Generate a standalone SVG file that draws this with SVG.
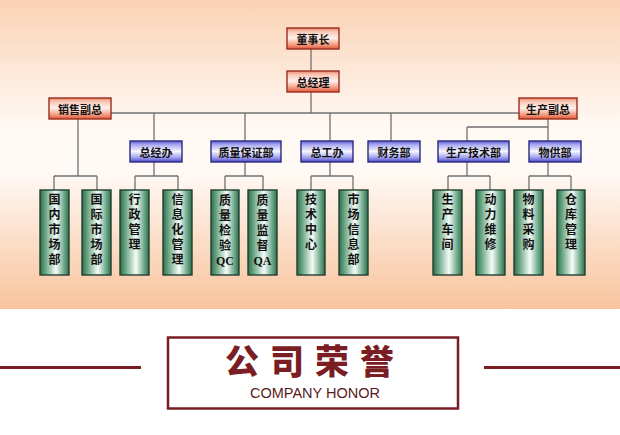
<svg xmlns="http://www.w3.org/2000/svg" width="620" height="435" viewBox="0 0 620 435">
<defs>
<linearGradient id="bg" x1="0" y1="0" x2="0" y2="1">
<stop offset="0" stop-color="#fad2b4"/>
<stop offset="0.4" stop-color="#fff8f2"/>
<stop offset="0.55" stop-color="#fffaf6"/>
<stop offset="1" stop-color="#f8c39c"/>
</linearGradient>
<linearGradient id="red" x1="0" y1="0" x2="0" y2="1">
<stop offset="0" stop-color="#ee8468"/>
<stop offset="0.18" stop-color="#f9c9b8"/>
<stop offset="0.48" stop-color="#fff1eb"/>
<stop offset="0.8" stop-color="#f29a7e"/>
<stop offset="1" stop-color="#e0553a"/>
</linearGradient>
<linearGradient id="blue" x1="0" y1="0" x2="0" y2="1">
<stop offset="0" stop-color="#6060dc"/>
<stop offset="0.2" stop-color="#b0b0f2"/>
<stop offset="0.5" stop-color="#f6f6ff"/>
<stop offset="0.8" stop-color="#9c9cec"/>
<stop offset="1" stop-color="#4646cc"/>
</linearGradient>
<linearGradient id="green" x1="0" y1="0" x2="1" y2="0">
<stop offset="0" stop-color="#2e6e4e"/>
<stop offset="0.22" stop-color="#74ad8e"/>
<stop offset="0.55" stop-color="#f6fcf8"/>
<stop offset="0.82" stop-color="#74ad8e"/>
<stop offset="1" stop-color="#2e6e4e"/>
</linearGradient>
<style>
.r{fill:url(#red);stroke:#9a2e1e;stroke-width:1.4}
.b{fill:url(#blue);stroke:#2a2a7c;stroke-width:1.4}
.g{fill:url(#green);stroke:#203f30;stroke-width:1.4}
.t{font-family:"Noto Sans CJK SC","Liberation Sans",sans-serif;font-size:11px;font-weight:700;fill:#111;text-anchor:middle;dominant-baseline:central}
.v{font-family:"Noto Sans CJK SC","Liberation Serif",serif;font-size:12px;font-weight:700;fill:#111;writing-mode:vertical-rl;letter-spacing:3px;text-anchor:start}
.q{font-family:"Liberation Serif",serif;font-size:12px;font-weight:700;fill:#111;text-anchor:middle;dominant-baseline:central}
.c line{stroke:#707070;stroke-width:1.3}
</style>
</defs>
<rect x="0" y="0" width="620" height="435" fill="#ffffff"/>
<rect x="0" y="0" width="620" height="309" fill="url(#bg)"/>

<g id="connectors" class="c">
<line x1="311" y1="49" x2="311" y2="71"/>
<line x1="311" y1="92" x2="311" y2="113"/>
<line x1="111" y1="113" x2="519" y2="113"/>
<line x1="154" y1="113" x2="154" y2="141"/>
<line x1="245" y1="113" x2="245" y2="141"/>
<line x1="330" y1="113" x2="330" y2="141"/>
<line x1="391" y1="113" x2="391" y2="141"/>
<line x1="548" y1="119" x2="548" y2="141"/>
<line x1="467" y1="127" x2="548" y2="127"/>
<line x1="467" y1="127" x2="467" y2="141"/>
<line x1="78" y1="119" x2="78" y2="176"/>
<line x1="54" y1="176" x2="97" y2="176"/>
<line x1="54" y1="176" x2="54" y2="190"/>
<line x1="97" y1="176" x2="97" y2="190"/>
<line x1="154" y1="162" x2="154" y2="176"/>
<line x1="135" y1="176" x2="178" y2="176"/>
<line x1="135" y1="176" x2="135" y2="190"/>
<line x1="178" y1="176" x2="178" y2="190"/>
<line x1="245" y1="162" x2="245" y2="176"/>
<line x1="225" y1="176" x2="263" y2="176"/>
<line x1="225" y1="176" x2="225" y2="190"/>
<line x1="263" y1="176" x2="263" y2="190"/>
<line x1="330" y1="162" x2="330" y2="176"/>
<line x1="311" y1="176" x2="353" y2="176"/>
<line x1="311" y1="176" x2="311" y2="190"/>
<line x1="353" y1="176" x2="353" y2="190"/>
<line x1="467" y1="162" x2="467" y2="176"/>
<line x1="448" y1="176" x2="490" y2="176"/>
<line x1="448" y1="176" x2="448" y2="190"/>
<line x1="490" y1="176" x2="490" y2="190"/>
<line x1="548" y1="162" x2="548" y2="176"/>
<line x1="529" y1="176" x2="571" y2="176"/>
<line x1="529" y1="176" x2="529" y2="190"/>
<line x1="571" y1="176" x2="571" y2="190"/>
</g>

<g id="n-dongshizhang"><rect class="r" x="287" y="28" width="52" height="21"/><text class="t" x="313" y="38.5">董事长</text></g>
<g id="n-zongjingli"><rect class="r" x="287" y="71" width="52" height="21"/><text class="t" x="313" y="81.5">总经理</text></g>
<g id="n-xiaoshou"><rect class="r" x="49" y="98" width="62" height="21"/><text class="t" x="80" y="108.5">销售副总</text></g>
<g id="n-shengchan"><rect class="r" x="519" y="98" width="58" height="21"/><text class="t" x="548" y="108.5">生产副总</text></g>

<g id="n-zongjingban"><rect class="b" x="130" y="141" width="52" height="21"/><text class="t" x="156" y="151.5">总经办</text></g>
<g id="n-zhiliang"><rect class="b" x="211" y="141" width="70" height="21"/><text class="t" x="246" y="151.5">质量保证部</text></g>
<g id="n-zonggongban"><rect class="b" x="301" y="141" width="52" height="21"/><text class="t" x="327" y="151.5">总工办</text></g>
<g id="n-caiwu"><rect class="b" x="368" y="141" width="52" height="21"/><text class="t" x="394" y="151.5">财务部</text></g>
<g id="n-shengchanjishu"><rect class="b" x="438" y="141" width="71" height="21"/><text class="t" x="473.5" y="151.5">生产技术部</text></g>
<g id="n-wugong"><rect class="b" x="529" y="141" width="52" height="21"/><text class="t" x="555" y="151.5">物供部</text></g>

<g id="n-guonei"><rect class="g" x="40" y="190" width="29" height="85"/><text class="v" x="54.5" y="193">国内市场部</text></g>
<g id="n-guoji"><rect class="g" x="82" y="190" width="29" height="85"/><text class="v" x="96.5" y="193">国际市场部</text></g>
<g id="n-xingzheng"><rect class="g" x="120" y="190" width="29" height="85"/><text class="v" x="134.5" y="193">行政管理</text></g>
<g id="n-xinxihua"><rect class="g" x="163" y="190" width="29" height="85"/><text class="v" x="177.5" y="193">信息化管理</text></g>
<g id="n-qc"><rect class="g" x="211" y="190" width="28" height="85"/><text class="v" x="225" y="194">质量检验</text><text class="q" x="225" y="261">QC</text></g>
<g id="n-qa"><rect class="g" x="248" y="190" width="29" height="85"/><text class="v" x="262.5" y="194">质量监督</text><text class="q" x="262.5" y="261">QA</text></g>
<g id="n-jishu"><rect class="g" x="297" y="190" width="28" height="85"/><text class="v" x="311" y="193">技术中心</text></g>
<g id="n-shichang"><rect class="g" x="339" y="190" width="29" height="85"/><text class="v" x="353.5" y="193">市场信息部</text></g>
<g id="n-chejian"><rect class="g" x="433" y="190" width="29" height="85"/><text class="v" x="447.5" y="193">生产车间</text></g>
<g id="n-dongli"><rect class="g" x="476" y="190" width="29" height="85"/><text class="v" x="490.5" y="193">动力维修</text></g>
<g id="n-wuliao"><rect class="g" x="514" y="190" width="29" height="85"/><text class="v" x="528.5" y="193">物料采购</text></g>
<g id="n-cangku"><rect class="g" x="557" y="190" width="28" height="85"/><text class="v" x="571" y="193">仓库管理</text></g>

<g id="honor">
<rect x="0" y="366" width="141" height="3" fill="#7a1e24"/>
<rect x="484" y="366" width="136" height="3" fill="#7a1e24"/>
<rect x="168" y="337.5" width="290" height="71" fill="none" stroke="#7a1e24" stroke-width="2.5"/>
<text x="315" y="374" font-family="'Noto Sans CJK SC',sans-serif" font-size="34" font-weight="900" fill="#7a1e24" text-anchor="middle" letter-spacing="11">公司荣誉</text>
<text x="315" y="398" font-family="'Liberation Sans',Arial,sans-serif" font-size="14.5" fill="#5a1a20" text-anchor="middle">COMPANY HONOR</text>
</g>
</svg>
